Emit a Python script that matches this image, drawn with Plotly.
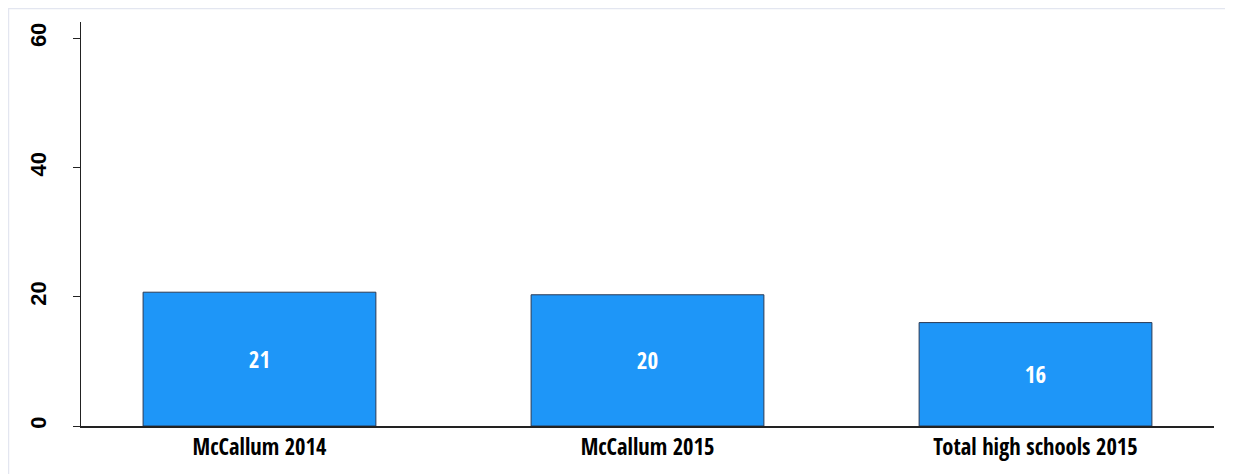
import plotly.graph_objects as go

categories = ["McCallum 2014", "McCallum 2015", "Total high schools 2015"]
values = [20.7, 20.3, 16.0]
labels = ["21", "20", "16"]
y_ticks = [0, 20, 40, 60]

FONT = "Liberation Sans Narrow, Open Sans Condensed, Arial Narrow, sans-serif"
YFONT = "Liberation Sans, Arial, sans-serif"

fig = go.Figure(
    go.Bar(
        x=categories,
        y=values,
        text=labels,
        textposition="inside",
        insidetextanchor="middle",
        textangle=0,
        textfont=dict(family=FONT, size=23, color="white", weight="bold"),
        marker=dict(color="#1E96F8", line=dict(color="#2b3a55", width=1)),
        width=0.6,
        hoverinfo="skip",
    )
)

fig.update_layout(
    width=1225,
    height=466,
    margin=dict(l=73, r=19, t=14, b=48, autoexpand=False),
    paper_bgcolor="white",
    plot_bgcolor="white",
    showlegend=False,
    font=dict(family=FONT, size=20, color="black", weight="bold"),
    shapes=[
        dict(
            type="rect", xref="paper", yref="paper",
            x0=-0.0640, x1=1.0165, y0=-0.3, y1=1.0334,
            line=dict(color="#e3e6f0", width=1.5), fillcolor="rgba(0,0,0,0)",
            layer="below",
        )
    ],
)

fig.update_xaxes(
    range=[-0.46, 2.46],
    automargin=False,
    showline=True, linecolor="#222", linewidth=1.5,
    ticks="", showgrid=False, zeroline=False,
    tickfont=dict(family=FONT, size=22.5, color="black", weight="bold"),
)
fig.update_yaxes(
    range=[0, 62.5],
    automargin=False,
    tickvals=y_ticks,
    showline=True, linecolor="#222", linewidth=1.2,
    ticks="outside", ticklen=7, tickcolor="#222", tickwidth=1,
    tickangle=-90,
    ticklabelstandoff=18,
    showgrid=False, zeroline=False,
    tickfont=dict(family=YFONT, size=22, color="black", weight="bold"),
)

fig.write_html("out.html")
